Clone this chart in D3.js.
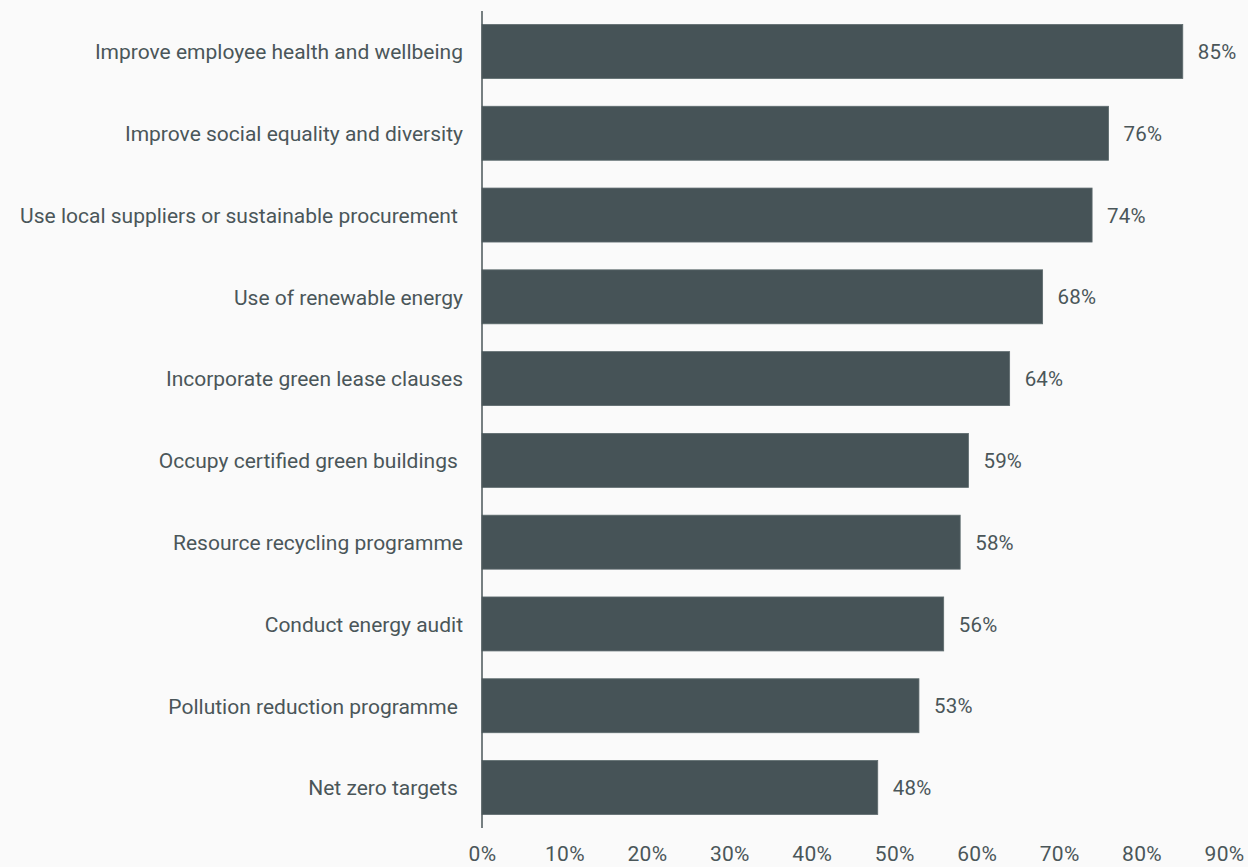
<!DOCTYPE html>
<html>
<head>
<meta charset="utf-8">
<script src="https://cdn.jsdelivr.net/npm/d3@7"></script>
<style>
  html, body { margin: 0; padding: 0; background: #fafafa; }
  svg { display: block; }
  text { font-family: Roboto, "Noto Sans", sans-serif; fill: #4a5659; white-space: pre; }
</style>
</head>
<body>
<svg id="chart" width="1248" height="867"></svg>
<script>
// Share of respondents per sustainability action
const categories = [
  "Improve employee health and wellbeing",
  "Improve social equality and diversity",
  "Use local suppliers or sustainable procurement ",
  "Use of renewable energy",
  "Incorporate green lease clauses",
  "Occupy certified green buildings ",
  "Resource recycling programme",
  "Conduct energy audit",
  "Pollution reduction programme ",
  "Net zero targets "
];
const values = [85, 76, 74, 68, 64, 59, 58, 56, 53, 48];
const tickValues = [0, 10, 20, 30, 40, 50, 60, 70, 80, 90];

const svg = d3.select("#chart");
const plot = { left: 482, right: 1224, top: 11, bottom: 828 };

const x = d3.scaleLinear().domain([0, 90]).range([plot.left, plot.right]);
const y = d3.scaleBand()
  .domain(categories)
  .range([plot.top, plot.bottom])
  .paddingInner(0.34)
  .paddingOuter(0.165);

// bars
svg.append("g").selectAll("rect")
  .data(categories)
  .join("rect")
  .attr("x", x(0))
  .attr("y", d => y(d))
  .attr("width", (d, i) => x(values[i]) - x(0))
  .attr("height", y.bandwidth())
  .attr("fill", "#465357")
  .attr("stroke", "#5d6a6d")
  .attr("stroke-width", 0.8);

// value labels
svg.append("g").selectAll("text")
  .data(categories)
  .join("text")
  .attr("x", (d, i) => x(values[i]) + 15)
  .attr("y", d => y(d) + y.bandwidth() / 2)
  .attr("dy", "0.37em")
  .style("font-size", "20.5px")
  .style("letter-spacing", "0.2px")
  .text((d, i) => values[i] + "%");

// category axis
const yAxis = svg.append("g")
  .attr("transform", `translate(${plot.left},0)`)
  .call(d3.axisLeft(y).tickSize(0).tickPadding(19));
yAxis.select(".domain").attr("stroke", "#4a5659").attr("stroke-width", 1.5)
  .attr("d", `M0,${plot.top}V${plot.bottom}`);
yAxis.selectAll("text")
  .attr("dy", "0.37em")
  .style("font-size", "21px")
  .style("font-family", "Roboto, 'Noto Sans', sans-serif")
  .attr("fill", "#4a5659");

// percentage axis
const xAxis = svg.append("g")
  .attr("transform", `translate(0,${plot.bottom})`)
  .call(d3.axisBottom(x).tickValues(tickValues).tickSize(0).tickPadding(18)
    .tickFormat(d => d + "%"));
xAxis.select(".domain").remove();
xAxis.selectAll("text")
  .style("font-size", "21px")
  .style("letter-spacing", "0.3px")
  .style("font-family", "Roboto, 'Noto Sans', sans-serif")
  .attr("fill", "#4a5659");
</script>
</body>
</html>
